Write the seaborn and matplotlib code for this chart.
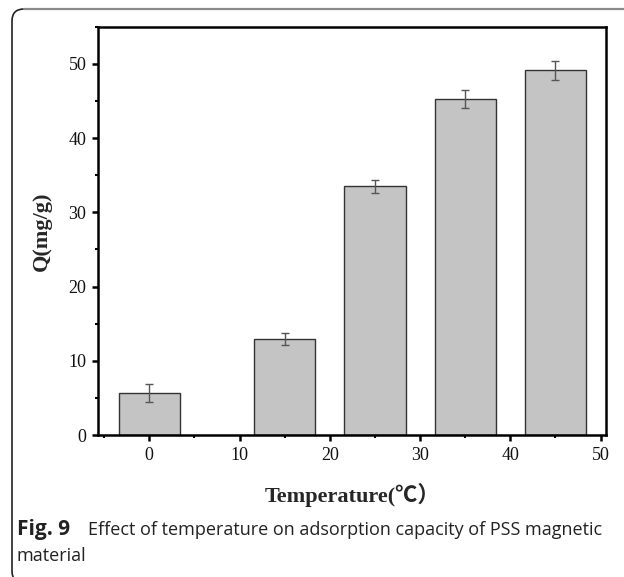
import numpy as np
import pandas as pd
import matplotlib
matplotlib.use("Agg")
import matplotlib.pyplot as plt
import seaborn as sns
from matplotlib.patches import FancyBboxPatch
from matplotlib.lines import Line2D
from matplotlib.transforms import IdentityTransform
from matplotlib.ticker import MultipleLocator

# ---- data ----
temperatures = [0, 15, 25, 35, 45]
capacity = [5.7, 12.9, 33.5, 45.3, 49.1]
capacity_err = [1.2, 0.8, 0.9, 1.2, 1.3]
x_ticks = [0, 10, 20, 30, 40, 50]
y_ticks = [0, 10, 20, 30, 40, 50]
x_label = "Temperature(\u2103\uff09"
y_label = "Q(mg/g)"
caption_bold = "Fig. 9"
caption_line1 = "Effect of temperature on adsorption capacity of PSS magnetic"
caption_line2 = "material"

df = pd.DataFrame({"T": temperatures, "Q": capacity})

sns.set_style("white")
W, H = 624, 577
fig = plt.figure(figsize=(W / 100, H / 100), dpi=100)

ax = fig.add_axes([98.3 / W, 1 - 435 / H, (606 - 98.3) / W, (435 - 26.7) / H])

sns.barplot(data=df, x="T", y="Q", native_scale=True, width=0.68,
            color="#c4c4c4", saturation=1, edgecolor="#333333", linewidth=1.0,
            errorbar=None, ax=ax)
ax.errorbar(temperatures, capacity, yerr=capacity_err, fmt="none",
            ecolor="#555555", elinewidth=1.0, capsize=3.2, capthick=1.0, zorder=5)

ax.set_xlim(-5.65, 50.6)
ax.set_ylim(0, 55)
ax.set_xticks(x_ticks)
ax.set_yticks(y_ticks)
ax.xaxis.set_minor_locator(MultipleLocator(5))
ax.yaxis.set_minor_locator(MultipleLocator(5))
ax.set_xticklabels([str(v) for v in x_ticks])
ax.set_yticklabels([str(v) for v in y_ticks])

serif = ["Liberation Serif", "DejaVu Serif"]
for lbl in ax.get_xticklabels() + ax.get_yticklabels():
    lbl.set_family(serif)
    lbl.set_fontsize(13)
    lbl.set_color("#111111")

ax.tick_params(axis="both", which="major", direction="out", length=4.5, width=1.8,
               color="black", pad=4)
ax.tick_params(axis="both", which="minor", direction="out", length=2.5, width=1.5,
               color="black")
ax.tick_params(top=False, right=False, which="both")
ax.tick_params(axis="x", which="both", bottom=True)
ax.tick_params(axis="y", which="both", left=True)
for s in ax.spines.values():
    s.set_visible(True)
    s.set_linewidth(1.8)
    s.set_color("black")

ax.set_xlabel(x_label, family=["Liberation Serif", "Noto Sans CJK SC"],
              fontweight="bold", fontsize=16, labelpad=14)
ax.set_ylabel(y_label, family=serif, fontweight="bold", fontsize=16, labelpad=12)

# ---- caption frame ----
frame = FancyBboxPatch((12, -6), 760, H - 9 + 6,
                       boxstyle="round,pad=0,rounding_size=12",
                       transform=IdentityTransform(), facecolor="none",
                       edgecolor="#222222", linewidth=1.2)
fig.patches.append(frame)
frame.set_figure(fig)
top_line = Line2D([24, W], [H - 9, H - 9], transform=IdentityTransform(),
                  color="#8a8a8a", linewidth=1.6)
fig.lines.append(top_line)
top_line.set_figure(fig)

# ---- caption text ----
cap_font = "Open Sans"
fig.text(17 / W, 1 - 535 / H, caption_bold, family=cap_font,
         fontweight="bold", fontsize=15, color="#222222", va="baseline")
fig.text(88 / W, 1 - 535 / H, caption_line1, family=cap_font,
         fontsize=13, color="#222222", va="baseline")
fig.text(17 / W, 1 - 561 / H, caption_line2, family=cap_font,
         fontsize=13, color="#222222", va="baseline")

fig.savefig("out.png", dpi=100)
